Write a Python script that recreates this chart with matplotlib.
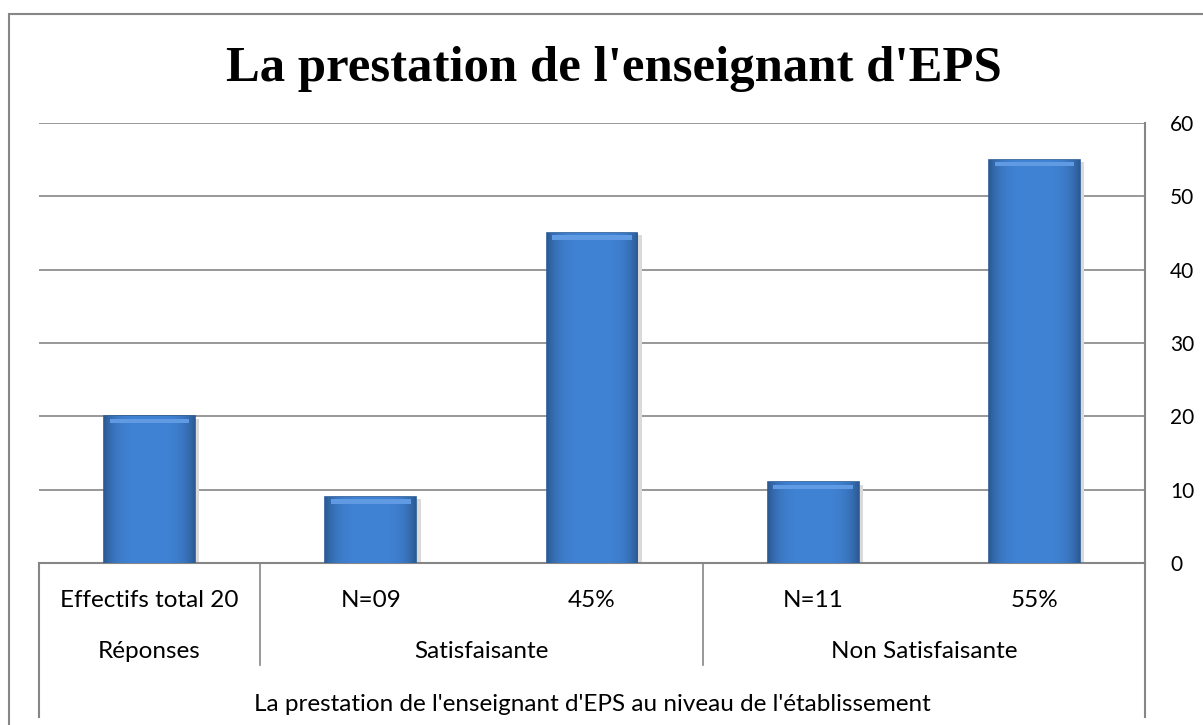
import numpy as np
import matplotlib
matplotlib.use('Agg')
from matplotlib import pyplot as plt
from matplotlib.patches import Rectangle
from matplotlib.transforms import blended_transform_factory

title = "La prestation de l'enseignant d'EPS"
level1 = ['Effectifs total 20', 'N=09', '45%', 'N=11', '55%']
level2 = ['Réponses', 'Satisfaisante', 'Non Satisfaisante']
level2_span = [(0, 0), (1, 2), (3, 4)]
level3 = "La prestation de l'enseignant d'EPS au niveau de l'établissement"
values = [20, 9, 45, 11, 55]
yticks = [0, 10, 20, 30, 40, 50, 60]

grid_col = '#868686'
lab_font = 'Lato'
lab_size = 17.5

fig = plt.figure(figsize=(12.03, 7.25), dpi=100)
ax = fig.add_axes([0.0324, 0.2234, 0.9194, 0.6069])

x = np.arange(len(values))
bw = 0.41
bars = ax.bar(x, values, width=bw, color='#3f7ecb', edgecolor='#2b5c98', linewidth=1.2, zorder=3)

# gradient fill on each bar (lighter centre, darker sides)
g = np.linspace(-1, 1, 100)
shade = 1 - 0.3 * np.abs(g) ** 4
base = np.array([0.25, 0.51, 0.83])
img = np.clip(base[None, None, :] * shade[None, :, None], 0, 1)
for b in bars:
    x0, w, h = b.get_x(), b.get_width(), b.get_height()
    im = ax.imshow(img, extent=(x0, x0 + w, 0, h), aspect='auto', zorder=3.5)
    im.set_clip_path(b)
    # light top edge
    ax.add_patch(Rectangle((x0 + w * 0.06, h - 0.9), w * 0.88, 0.6, color='#5f9ae2', lw=0, zorder=4))
    # shadow
    ax.add_patch(Rectangle((x0 + 0.02, -0.3), w, h, color='#dadada', lw=0, zorder=2))

ax.set_xlim(-0.5, len(values) - 0.5)
ax.set_ylim(0, 60)
ax.set_yticks(yticks)
ax.yaxis.tick_right()
ax.tick_params(axis='y', length=0, pad=18, labelsize=15, labelcolor='#000000')
for t in ax.get_yticklabels():
    t.set_fontfamily(lab_font)
    t.set_horizontalalignment('left')
ax.set_xticks([])
ax.grid(axis='y', color=grid_col, linewidth=1.2, zorder=0)
for s in ['top', 'left']:
    ax.spines[s].set_visible(False)
ax.spines['right'].set_color(grid_col)
ax.spines['right'].set_linewidth(1.5)
ax.spines['bottom'].set_color(grid_col)
ax.spines['bottom'].set_linewidth(1.5)

# multi-level category labels
tr = blended_transform_factory(ax.transData, fig.transFigure)
for i, lab in enumerate(level1):
    ax.text(i, 0.1724, lab, transform=tr, ha='center', va='center', fontsize=lab_size, family=lab_font)
for lab, (a, b) in zip(level2, level2_span):
    ax.text((a + b) / 2, 0.1007, lab, transform=tr, ha='center', va='center', fontsize=lab_size, family=lab_font)
ax.text((len(values) - 1) / 2, 0.0276, level3, transform=tr, ha='center', va='center', fontsize=lab_size, family=lab_font)

for xs in [0.5, 2.5]:
    ax.plot([xs, xs], [0.2234, 0.0828], transform=tr, color=grid_col, lw=1.2, clip_on=False)
for xs in [-0.5, len(values) - 0.5]:
    ax.plot([xs, xs], [0.2234, 0.011], transform=tr, color=grid_col, lw=1.5, clip_on=False)

fig.text(0.51, 0.905, title, ha='center', va='center', fontsize=36.5, fontweight='bold', family='Liberation Serif')

# chart outer border (cut off at right and bottom)
fig.patches.append(Rectangle((9 / 1203, -0.05), 1.1, 1.05 - 14 / 725, transform=fig.transFigure,
                             fill=False, edgecolor=grid_col, lw=1.5))

fig.savefig('out.png', dpi=100)
